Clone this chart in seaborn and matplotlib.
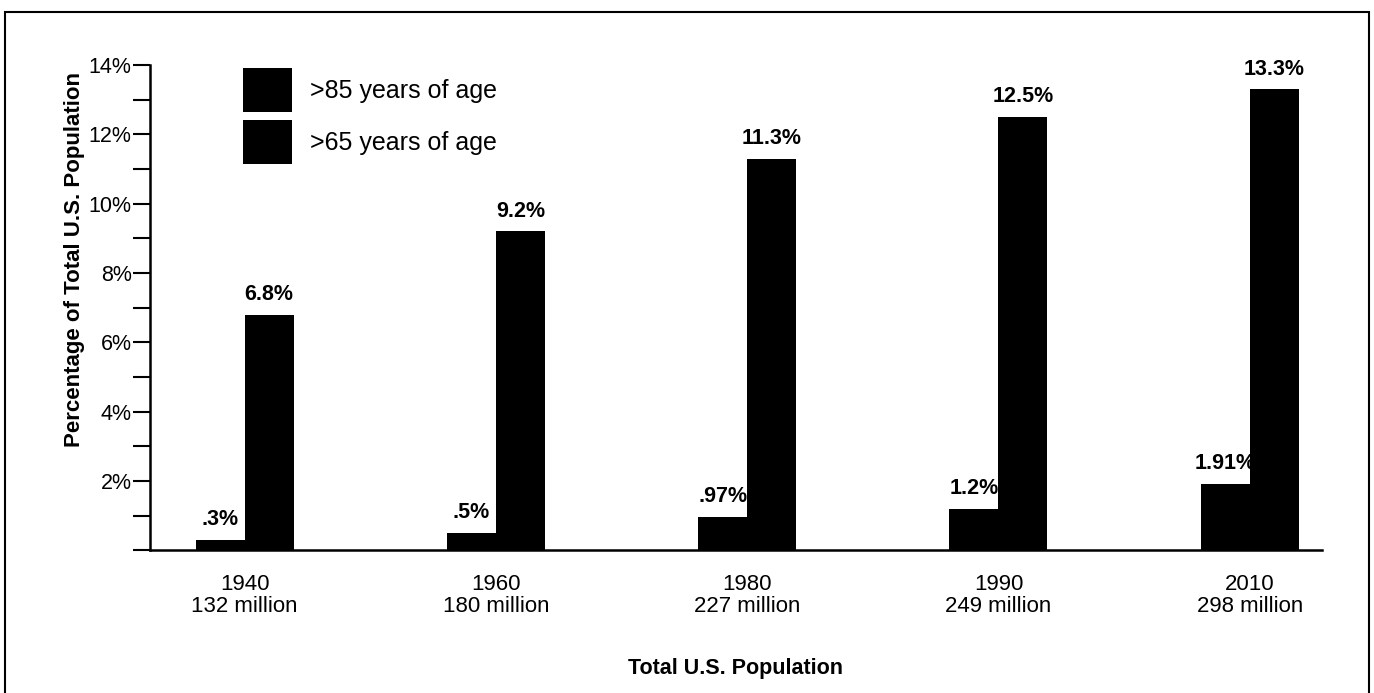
import pandas as pd
import seaborn as sns
from matplotlib import pyplot as plt
from matplotlib.patches import Rectangle
from matplotlib.ticker import MultipleLocator, FixedLocator

years = ["1940", "1960", "1980", "1990", "2010"]
populations = ["132 million", "180 million", "227 million", "249 million", "298 million"]
over_85 = [0.3, 0.5, 0.97, 1.2, 1.91]
over_65 = [6.8, 9.2, 11.3, 12.5, 13.3]
labels_85 = [".3%", ".5%", ".97%", "1.2%", "1.91%"]
labels_65 = ["6.8%", "9.2%", "11.3%", "12.5%", "13.3%"]
series = [">85 years of age", ">65 years of age"]
yticks = [2, 4, 6, 8, 10, 12, 14]

df = pd.DataFrame({
    "year": years * 2,
    "pct": over_85 + over_65,
    "group": [series[0]] * len(years) + [series[1]] * len(years),
})

sns.set_style("white")
plt.rcParams["font.family"] = ["Liberation Sans", "DejaVu Sans"]
plt.rcParams.update({"text.color": "black", "axes.labelcolor": "black",
                     "xtick.color": "black", "ytick.color": "black"})

fig = plt.figure(figsize=(13.74, 6.93), dpi=100)
ax = fig.add_axes([0.109, 0.206, 0.853, 0.700])

sns.barplot(data=df, x="year", y="pct", hue="group", palette=["black", "black"],
            width=0.39, gap=0, saturation=1, ax=ax, linewidth=0)

for cont, labs in zip(ax.containers, [labels_85, labels_65]):
    ax.bar_label(cont, labels=labs, padding=7, fontsize=15.5, fontweight="bold")

ax.set_xlim(-0.378, 4.287)
ax.set_ylim(0, 14)
ax.yaxis.set_major_locator(FixedLocator(yticks))
ax.yaxis.set_minor_locator(MultipleLocator(1))
ax.set_yticklabels([f"{v}%" for v in yticks], fontsize=15.5)
ax.tick_params(axis="y", which="both", direction="out", length=12, width=1.5,
               left=True, pad=1)
ax.set_xticks(range(len(years)))
ax.set_xticklabels([f"{y}\n{p}" for y, p in zip(years, populations)], fontsize=16,
                   linespacing=1.1)
ax.tick_params(axis="x", length=0, pad=17)

for side in ["top", "right"]:
    ax.spines[side].set_visible(False)
for side in ["left", "bottom"]:
    ax.spines[side].set_color("black")
    ax.spines[side].set_linewidth(1.8)

ax.set_xlabel("Total U.S. Population", fontsize=15.5, fontweight="bold", labelpad=29)
ax.set_ylabel("Percentage of Total U.S. Population", fontsize=16, fontweight="bold")
ax.yaxis.set_label_coords(-0.055, 0.6)

handles, _ = ax.get_legend_handles_labels()
ax.legend(handles, series, loc="upper left", bbox_to_anchor=(243 / 1374, 1 - 68 / 693),
          bbox_transform=fig.transFigure, frameon=False, fontsize=18, borderpad=0,
          borderaxespad=0, handlelength=1.96, handleheight=2.33, labelspacing=0.32,
          handletextpad=0.72)

fig.patches.append(Rectangle((0.004, -0.01), 0.992, 0.993, transform=fig.transFigure,
                             fill=False, edgecolor="black", linewidth=1.5))

fig.savefig("out.png", dpi=100)
